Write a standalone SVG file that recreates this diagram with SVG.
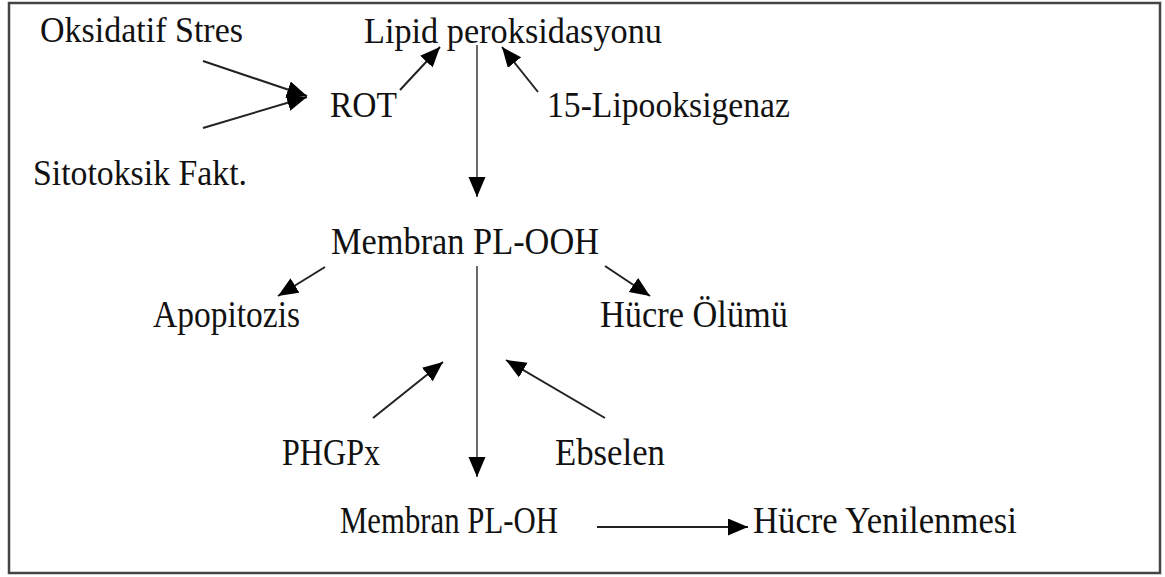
<svg xmlns="http://www.w3.org/2000/svg" width="1165" height="577" viewBox="0 0 1165 577">
<style>
text{font-family:"Liberation Serif","Times New Roman",serif;font-size:36px;fill:#111}
text.t{font-size:38px}
.c{stroke:#222;stroke-width:2;fill:none}
.g{stroke:#444;stroke-width:1.6;fill:none}
</style>
<defs>
<marker id="ah" markerUnits="userSpaceOnUse" markerWidth="22" markerHeight="18" refX="20" refY="8.5" orient="auto">
<path d="M0,0 L20,8.5 L0,17 z" fill="#000"/>
</marker>
</defs>
<rect x="0" y="0" width="1165" height="577" fill="#fff"/>
<rect x="9" y="3" width="1151" height="570" fill="none" stroke="#444" stroke-width="2.5"/>
<g id="n-oksidatif"><text x="40" y="42" textLength="203" lengthAdjust="spacingAndGlyphs">Oksidatif Stres</text></g>
<g id="n-lipid"><text x="364" y="43" textLength="298" lengthAdjust="spacingAndGlyphs">Lipid peroksidasyonu</text></g>
<g id="n-rot"><text x="330" y="117" textLength="67" lengthAdjust="spacingAndGlyphs">ROT</text></g>
<g id="n-lipooksigenaz"><text x="547" y="117" textLength="243" lengthAdjust="spacingAndGlyphs">15-Lipooksigenaz</text></g>
<g id="n-sitotoksik"><text x="33" y="185" textLength="214" lengthAdjust="spacingAndGlyphs">Sitotoksik Fakt.</text></g>
<g id="n-plooh"><text class="t" x="331" y="254" textLength="268" lengthAdjust="spacingAndGlyphs">Membran PL-OOH</text></g>
<g id="n-apopitozis"><text class="t" x="153" y="327" textLength="147" lengthAdjust="spacingAndGlyphs">Apopitozis</text></g>
<g id="n-olum"><text class="t" x="600" y="327" textLength="188" lengthAdjust="spacingAndGlyphs">Hücre Ölümü</text></g>
<g id="n-phgpx"><text class="t" x="282" y="465" textLength="98" lengthAdjust="spacingAndGlyphs">PHGPx</text></g>
<g id="n-ebselen"><text class="t" x="555" y="465" textLength="110" lengthAdjust="spacingAndGlyphs">Ebselen</text></g>
<g id="n-ploh"><text class="t" x="340" y="533" textLength="218" lengthAdjust="spacingAndGlyphs">Membran PL-OH</text></g>
<g id="n-yenilenme"><text class="t" x="753" y="533" textLength="264" lengthAdjust="spacingAndGlyphs">Hücre Yenilenmesi</text></g>
<g id="connectors">
<line class="c" x1="203" y1="61" x2="307" y2="96" marker-end="url(#ah)"/>
<line class="c" x1="203" y1="128" x2="307" y2="97" marker-end="url(#ah)"/>
<line class="c" x1="400" y1="90" x2="440" y2="47" marker-end="url(#ah)"/>
<line class="c" x1="538" y1="92" x2="502" y2="47" marker-end="url(#ah)"/>
<line class="g" x1="477" y1="45" x2="477" y2="197" marker-end="url(#ah)"/>
<line class="c" x1="325" y1="267" x2="278" y2="296" marker-end="url(#ah)"/>
<line class="c" x1="605" y1="266" x2="650" y2="296" marker-end="url(#ah)"/>
<line class="g" x1="477" y1="266" x2="477" y2="477" marker-end="url(#ah)"/>
<line class="c" x1="373" y1="418" x2="443" y2="362" marker-end="url(#ah)"/>
<line class="c" x1="605" y1="418" x2="506" y2="360" marker-end="url(#ah)"/>
<line class="c" x1="597" y1="527" x2="748" y2="527" marker-end="url(#ah)"/>
</g>
</svg>
